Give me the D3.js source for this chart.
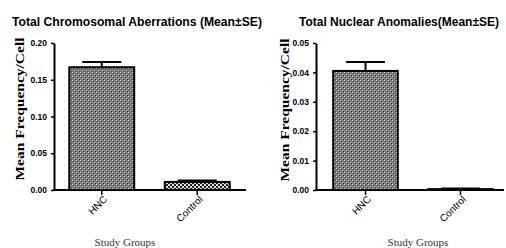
<!DOCTYPE html>
<html><head><meta charset="utf-8">
<script src="https://cdn.jsdelivr.net/npm/d3@7"></script>
<style>body{margin:0;background:#fff}svg{display:block}</style>
</head><body>
<svg id="c" width="506" height="248"></svg>
<script>
const categories = ["HNC", "Control"];
const caMeans = [0.167, 0.011];
const caSE = [0.007, 0.002];
const naMeans = [0.0405, 0.0003];
const naSE = [0.003, 0.0002];
const caTicks = [0, 0.05, 0.10, 0.15, 0.20];
const naTicks = [0, 0.01, 0.02, 0.03, 0.04, 0.05];
const titles = ["Total Chromosomal Aberrations (Mean\u00b1SE)", "Total Nuclear Anomalies(Mean\u00b1SE)"];

const svg = d3.select("#c");
const defs = svg.append("defs");
const p1 = defs.append("pattern").attr("id","p1").attr("width",4).attr("height",4).attr("patternUnits","userSpaceOnUse");
p1.append("rect").attr("width",4).attr("height",4).attr("fill","#7a7a7a");
p1.append("rect").attr("x",0).attr("y",0).attr("width",1).attr("height",1).attr("fill","#d8d8d8");
p1.append("rect").attr("x",2).attr("y",2).attr("width",1).attr("height",1).attr("fill","#c8c8c8");
p1.append("rect").attr("x",1).attr("y",1).attr("width",1).attr("height",1).attr("fill","#444");
p1.append("rect").attr("x",3).attr("y",3).attr("width",1).attr("height",1).attr("fill","#444");
const p2 = defs.append("pattern").attr("id","p2").attr("width",4).attr("height",4).attr("patternUnits","userSpaceOnUse");
p2.append("rect").attr("width",4).attr("height",4).attr("fill","#222");
p2.append("rect").attr("x",0).attr("y",0).attr("width",2).attr("height",2).attr("fill","#ddd");
p2.append("rect").attr("x",2).attr("y",2).attr("width",2).attr("height",2).attr("fill","#ddd");

function panel(cfg){
  const g = svg.append("g");
  const y = d3.scaleLinear().domain(cfg.domain).range([190,43]);
  const x = d3.scaleBand().domain(categories).range(cfg.xr).paddingInner(0.32).paddingOuter(0.16);
  g.append("text").attr("x",cfg.titleX).attr("y",26).attr("font-family","Liberation Sans, Arial, sans-serif")
    .attr("font-weight","bold").attr("font-size",12.5).attr("textLength",cfg.titleW).attr("lengthAdjust","spacingAndGlyphs")
    .text(cfg.title);
  g.selectAll("rect.bar").data(categories).join("rect")
    .attr("x",d=>x(d)).attr("width",x.bandwidth())
    .attr("y",(d,i)=>y(cfg.means[i])).attr("height",(d,i)=>Math.max(0.5,y(0)-y(cfg.means[i])))
    .attr("fill",(d,i)=>i===0?"url(#p1)":cfg.ctrlFill).attr("stroke","#000").attr("stroke-width",2);
  categories.forEach((c,i)=>{
    const cx = x(c)+x.bandwidth()/2;
    const top = y(cfg.means[i]+cfg.se[i]);
    g.append("line").attr("x1",cx).attr("x2",cx).attr("y1",y(cfg.means[i])).attr("y2",top).attr("stroke","#000").attr("stroke-width",2);
    g.append("line").attr("x1",cx-x.bandwidth()*0.3).attr("x2",cx+x.bandwidth()*0.3).attr("y1",top).attr("y2",top).attr("stroke","#000").attr("stroke-width",2);
  });
  const ya = g.append("g").attr("transform",`translate(${cfg.ax},0)`)
    .call(d3.axisLeft(y).tickValues(cfg.ticks).tickFormat(d3.format(cfg.fmt)).tickSize(3).tickSizeOuter(0));
  ya.select(".domain").attr("stroke-width",2);
  ya.selectAll(".tick line").attr("stroke-width",1.5);
  ya.selectAll("text").attr("font-family","Liberation Sans, Arial, sans-serif").attr("font-weight","bold").attr("font-size",8.5).attr("dx",-1).attr("fill","#000");
  g.append("line").attr("x1",cfg.ax-1).attr("x2",cfg.axEnd).attr("y1",190).attr("y2",190).attr("stroke","#000").attr("stroke-width",2);
  const xa = g.append("g").attr("transform","translate(0,190)")
    .call(d3.axisBottom(x).tickSize(5).tickSizeOuter(0));
  xa.select(".domain").remove();
  xa.selectAll(".tick line").attr("stroke-width",1.5);
  xa.selectAll("text").attr("font-family","Liberation Sans, Arial, sans-serif").attr("font-size",10).attr("fill","#000")
    .attr("text-anchor","end").attr("dy","0").attr("y",0).attr("x",0).attr("transform","translate(6,10) rotate(-45)");
  g.append("text").attr("transform",`translate(${cfg.ylx},${cfg.yly}) rotate(-90)`).attr("text-anchor","middle")
    .attr("font-family","Liberation Serif, Times New Roman, serif").attr("font-weight","bold").attr("font-size",13)
    .attr("textLength",143).attr("lengthAdjust","spacingAndGlyphs")
    .text("Mean Frequency/Cell");
  g.append("text").attr("x",cfg.xlx).attr("y",246).attr("text-anchor","middle")
    .attr("font-family","Liberation Serif, Times New Roman, serif").attr("font-size",11).attr("fill","#333")
    .text("Study Groups");
}

panel({domain:[0,0.2], xr:[54,245], means:caMeans, se:caSE, ticks:caTicks, fmt:".2f", title:titles[0],
  titleX:12, titleW:250, ax:54, axEnd:246, ylx:24, yly:109, xlx:125, ctrlFill:"url(#p2)"});
panel({domain:[0,0.05], xr:[318,508], means:naMeans, se:naSE, ticks:naTicks, fmt:".2f", title:titles[1],
  titleX:299, titleW:200, ax:316, axEnd:504, ylx:289, yly:110, xlx:418, ctrlFill:"url(#p1)"});
</script>
</body></html>
